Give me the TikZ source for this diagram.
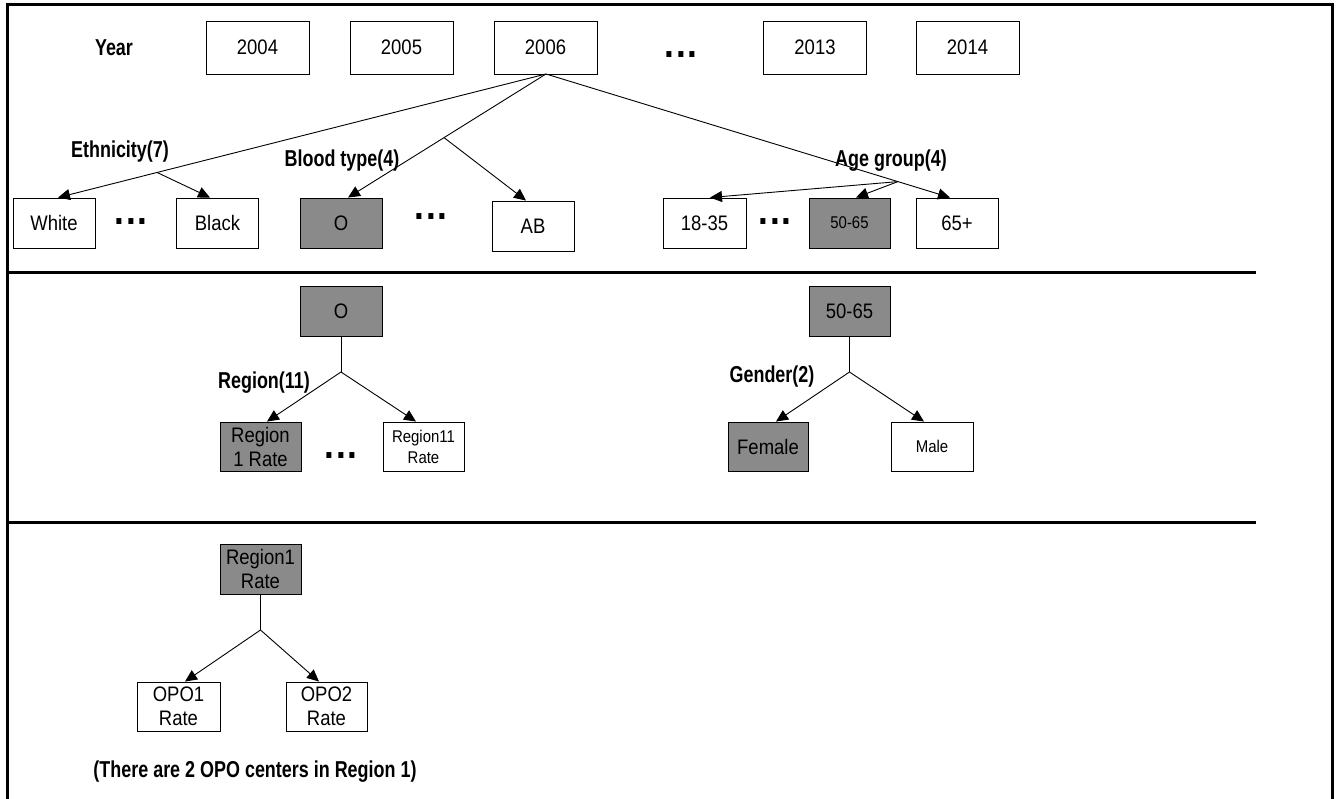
\documentclass[tikz,border=0pt]{standalone}
\usepackage{fontspec}
\setmainfont{Liberation Sans}[FakeStretch=0.88]
\newfontfamily\narrowbold{Liberation Sans Bold}[FakeStretch=0.78]
\usetikzlibrary{arrows.meta,calc}
\definecolor{boxgray}{RGB}{138,138,138}
\begin{document}
\begin{tikzpicture}[x=1pt,y=-1pt,
  box/.style={draw=black,line width=0.9pt,minimum width=82pt,minimum height=50pt,inner sep=0pt,align=center,font=\fontsize{21}{24}\selectfont},
  small/.style={font=\fontsize{17}{21}\selectfont},
  grayfill/.style={fill=boxgray},
  lbl/.style={inner sep=0pt,font=\fontsize{23}{25}\narrowbold},
  dots/.style={inner sep=0pt,font=\fontsize{40}{40}\selectfont\bfseries},
  conn/.style={line width=0.9pt},
  arr/.style={line width=0.9pt,-{Triangle[length=12pt,width=11pt]}},
  sep/.style={line width=3pt}]
\useasboundingbox (0,0) rectangle (1336,799);
% frame
\draw[line width=3pt] (7,799) -- (7,5) -- (1332,5) -- (1332,799);
\draw[sep] (7,273) -- (1256,273);
\draw[sep] (7,522) -- (1256,522);

% year row
\node[lbl] (year) at (114,48) {Year};
\node[box,minimum width=103pt,minimum height=53pt] (y2004) at (257.5,47.5) {2004};
\node[box,minimum width=103pt,minimum height=53pt] (y2005) at (401.5,47.5) {2005};
\node[box,minimum width=103pt,minimum height=53pt] (y2006) at (545.5,47.5) {2006};
\node[dots] (ydots) at (681,55) {.\kern2pt.\kern2pt.};
\node[box,minimum width=103pt,minimum height=53pt] (y2013) at (815,47.5) {2013};
\node[box,minimum width=103pt,minimum height=53pt] (y2014) at (967.5,47.5) {2014};

% second row
\node[box] (white) at (54,223) {White};
\node[dots] (d1) at (131,222) {.\kern2pt.\kern2pt.};
\node[box] (black) at (217.5,223) {Black};
\node[box,grayfill] (o) at (341,223) {O};
\node[dots] (d2) at (431,217) {.\kern2pt.\kern2pt.};
\node[box] (ab) at (533,226) {AB};
\node[box,minimum width=83pt] (a1835) at (704.5,223) {18-35};
\node[dots] (d3) at (775,222) {.\kern2pt.\kern2pt.};
\node[box,grayfill,small,minimum width=81pt] (a5065) at (849.5,223) {50-65};
\node[box] (a65) at (957,223) {65+};

\node[lbl] (leth) at (120,152) {Ethnicity(7)};
\node[lbl] (lblood) at (342,161) {Blood type(4)};
\node[lbl] (lage) at (891,161) {Age group(4)};

\coordinate (src) at (546,74);
\coordinate (twhite) at ($(white.north)+(4,0)$);
\coordinate (tblack) at ($(black.north)+(-7.5,0)$);
\coordinate (to) at ($(o.north)+(7,0)$);
\coordinate (tab) at ($(ab.north)+(-7,0)$);
\coordinate (t1835) at ($(a1835.north)+(5.5,0)$);
\coordinate (t5065) at ($(a5065.north)+(6.5,0)$);
\coordinate (t65) at ($(a65.north)+(-7,0)$);
\coordinate (beth) at ($(src)!0.797!(twhite)$);
\coordinate (bblood) at ($(src)!0.515!(to)$);
\coordinate (bage) at ($(src)!0.871!(t65)$);

\draw[arr] (src) -- (twhite);
\draw[arr] (beth) -- (tblack);
\draw[arr] (src) -- (to);
\draw[arr] (bblood) -- (tab);
\draw[arr] (src) -- (t65);
\draw[arr] (bage) -- (t1835);
\draw[arr] (bage) -- (t5065);

% section 2 left
\node[box,grayfill] (o2) at (341,311) {O};
\coordinate (b2) at (341,372);
\node[lbl] (lreg) at (264,383) {Region(11)};
\node[box,grayfill,minimum width=81pt,minimum height=49pt] (r1) at (260.5,446.5) {Region\\1 Rate};
\node[dots] (d4) at (341,456) {.\kern2pt.\kern2pt.};
\node[box,small,minimum width=81pt,minimum height=49pt] (r11) at (423.5,446.5) {Region11\\Rate};
\draw[conn] (o2.south) -- (b2);
\draw[arr] (b2) -- ($(r1.north)+(6.5,0)$);
\draw[arr] (b2) -- ($(r11.north)+(-7.5,0)$);

% section 2 right
\node[box,grayfill,minimum width=81pt] (g5065) at (849.5,311) {50-65};
\coordinate (b3) at (849.5,372);
\node[lbl] (lgen) at (772,377) {Gender(2)};
\node[box,grayfill,minimum width=80pt,minimum height=49pt] (female) at (768,446.5) {Female};
\node[box,small,minimum width=82pt,minimum height=49pt] (male) at (932,446.5) {Male};
\draw[conn] (g5065.south) -- (b3);
\draw[arr] (b3) -- ($(female.north)+(8,0)$);
\draw[arr] (b3) -- ($(male.north)+(-8,0)$);

% section 3
\node[box,grayfill,minimum width=81pt] (r1b) at (260.5,569) {Region1\\Rate};
\coordinate (b4) at (260.5,630);
\node[box,minimum width=83pt,minimum height=49pt] (opo1) at (178.5,706.5) {OPO1\\Rate};
\node[box,minimum width=81pt,minimum height=49pt] (opo2) at (326.5,706.5) {OPO2\\Rate};
\draw[conn] (r1b.south) -- (b4);
\draw[arr] (b4) -- ($(opo1.north)+(6.5,0)$);
\draw[arr] (b4) -- ($(opo2.north)+(-7.5,0)$);
\node[lbl] (cap) at (255,772) {(There are 2 OPO centers in Region 1)};
\end{tikzpicture}
\end{document}
